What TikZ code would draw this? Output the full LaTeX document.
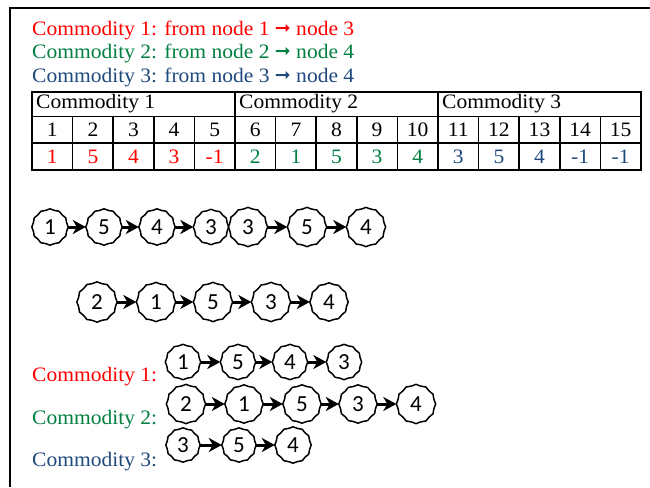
\documentclass[tikz,border=0pt]{standalone}
\usepackage{fontspec}
\setmainfont[FakeStretch=1.05]{Liberation Serif}
\newfontfamily\numfont{Carlito}
\newfontfamily\symfont{DejaVu Sans}
\usetikzlibrary{arrows.meta}
\definecolor{cred}{RGB}{255,0,0}
\definecolor{cgreen}{RGB}{0,128,64}
\definecolor{cblue}{RGB}{31,73,125}

\tikzset{
  lbl/.style={anchor=west, inner sep=0pt, font=\fontsize{20.5}{24}\selectfont},
  cell/.style={inner sep=0pt, font=\fontsize{20.5}{24}\selectfont},
  vtx/.style={circle, inner sep=0pt, minimum size=#1, font=\numfont\fontsize{23}{24}\selectfont},
  rim/.style={line width=1.5pt, line join=round},
  arr/.style={line width=3pt, -{Stealth[length=13pt,width=14pt,inset=4pt]}},
  frame/.style={line width=1.5pt},
  grid/.style={line width=1.5pt}
}

% scalloped vertex: name, position, diameter, label
\newcommand\vtxnode[4]{%
  \node[vtx=#3] (#1) at (#2) {#4};
  \draw[rim] (#1.0) \foreach \a in {30,60,...,360}{ to[bend left=9] (#1.\a) } -- cycle;
}
\newcommand\arrsym{{\symfont\fontsize{19}{19}\selectfont\raisebox{1pt}{➞}}}

\begin{document}
\begin{tikzpicture}[x=1pt,y=-1pt]
  \useasboundingbox (0,0) rectangle (650,487);

  % frame
  \draw[frame] (10,487) -- (10,8) -- (650,8);

  % commodity definitions
  \node[lbl, text=cred]   (d1) at (32,30) {Commodity 1: from node 1 \arrsym\ node 3};
  \node[lbl, text=cgreen] (d2) at (32,53) {Commodity 2: from node 2 \arrsym\ node 4};
  \node[lbl, text=cblue]  (d3) at (32,77) {Commodity 3: from node 3 \arrsym\ node 4};

  % encoding table
  \def\cw{40.6}
  \draw[grid] (32,92) rectangle (641,170);
  \draw[grid] (32,116.5) -- (641,116.5);
  \draw[grid] (32,143) -- (641,143);
  \foreach \k in {5,10} \draw[grid] ({32+\k*\cw},92) -- ({32+\k*\cw},116.5);
  \foreach \k in {1,...,14} \draw[grid] ({32+\k*\cw},116.5) -- ({32+\k*\cw},170);

  \node[cell, anchor=west] (h1) at (36,104) {Commodity 1};
  \node[cell, anchor=west] (h2) at ({36+5*\cw},104) {Commodity 2};
  \node[cell, anchor=west] (h3) at ({36+10*\cw},104) {Commodity 3};

  \foreach \k in {1,...,15} \node[cell] (i\k) at ({32+(\k-0.5)*\cw},130) {\k};

  \foreach \v [count=\k] in {1,5,4,3,-1}
    \node[cell, text=cred] (r\k) at ({32+(\k-0.5)*\cw},157) {\v};
  \foreach \v [count=\k from 6] in {2,1,5,3,4}
    \node[cell, text=cgreen] (r\k) at ({32+(\k-0.5)*\cw},157) {\v};
  \foreach \v [count=\k from 11] in {3,5,4,-1,-1}
    \node[cell, text=cblue] (r\k) at ({32+(\k-0.5)*\cw},157) {\v};

  % decoded chromosome, first line
  \vtxnode{a1}{50,227}{36}{1}
  \vtxnode{a2}{104,227}{36}{5}
  \vtxnode{a3}{157,227}{36}{4}
  \vtxnode{a4}{211,227}{35}{3}
  \vtxnode{a5}{248,227}{39}{3}
  \vtxnode{a6}{307,227}{39}{5}
  \vtxnode{a7}{366,227}{39}{4}
  \draw[arr] (a1) -- (a2);
  \draw[arr] (a2) -- (a3);
  \draw[arr] (a3) -- (a4);
  \draw[arr] (a5) -- (a6);
  \draw[arr] (a6) -- (a7);

  % decoded chromosome, second line
  \vtxnode{b1}{97,302}{40}{2}
  \vtxnode{b2}{156,302}{39}{1}
  \vtxnode{b3}{213,302}{39}{5}
  \vtxnode{b4}{271,302}{39}{3}
  \vtxnode{b5}{329,302}{38}{4}
  \draw[arr] (b1) -- (b2);
  \draw[arr] (b2) -- (b3);
  \draw[arr] (b3) -- (b4);
  \draw[arr] (b4) -- (b5);

  % resulting paths per commodity
  \node[lbl, text=cred]   (p1) at (32,377) {Commodity 1:};
  \node[lbl, text=cgreen] (p2) at (32,420) {Commodity 2:};
  \node[lbl, text=cblue]  (p3) at (32,462) {Commodity 3:};

  \vtxnode{c1}{183,362}{35}{1}
  \vtxnode{c2}{238,362}{35}{5}
  \vtxnode{c3}{290,362}{35}{4}
  \vtxnode{c4}{344,362}{35}{3}
  \draw[arr] (c1) -- (c2);
  \draw[arr] (c2) -- (c3);
  \draw[arr] (c3) -- (c4);

  \vtxnode{e1}{186,404}{39}{2}
  \vtxnode{e2}{244,404}{38}{1}
  \vtxnode{e3}{302,404}{38}{5}
  \vtxnode{e4}{358,404}{38}{3}
  \vtxnode{e5}{416,404}{39}{4}
  \draw[arr] (e1) -- (e2);
  \draw[arr] (e2) -- (e3);
  \draw[arr] (e3) -- (e4);
  \draw[arr] (e4) -- (e5);

  \vtxnode{f1}{183,445}{34}{3}
  \vtxnode{f2}{239,445}{34}{5}
  \vtxnode{f3}{293,445}{36}{4}
  \draw[arr] (f1) -- (f2);
  \draw[arr] (f2) -- (f3);
\end{tikzpicture}
\end{document}
